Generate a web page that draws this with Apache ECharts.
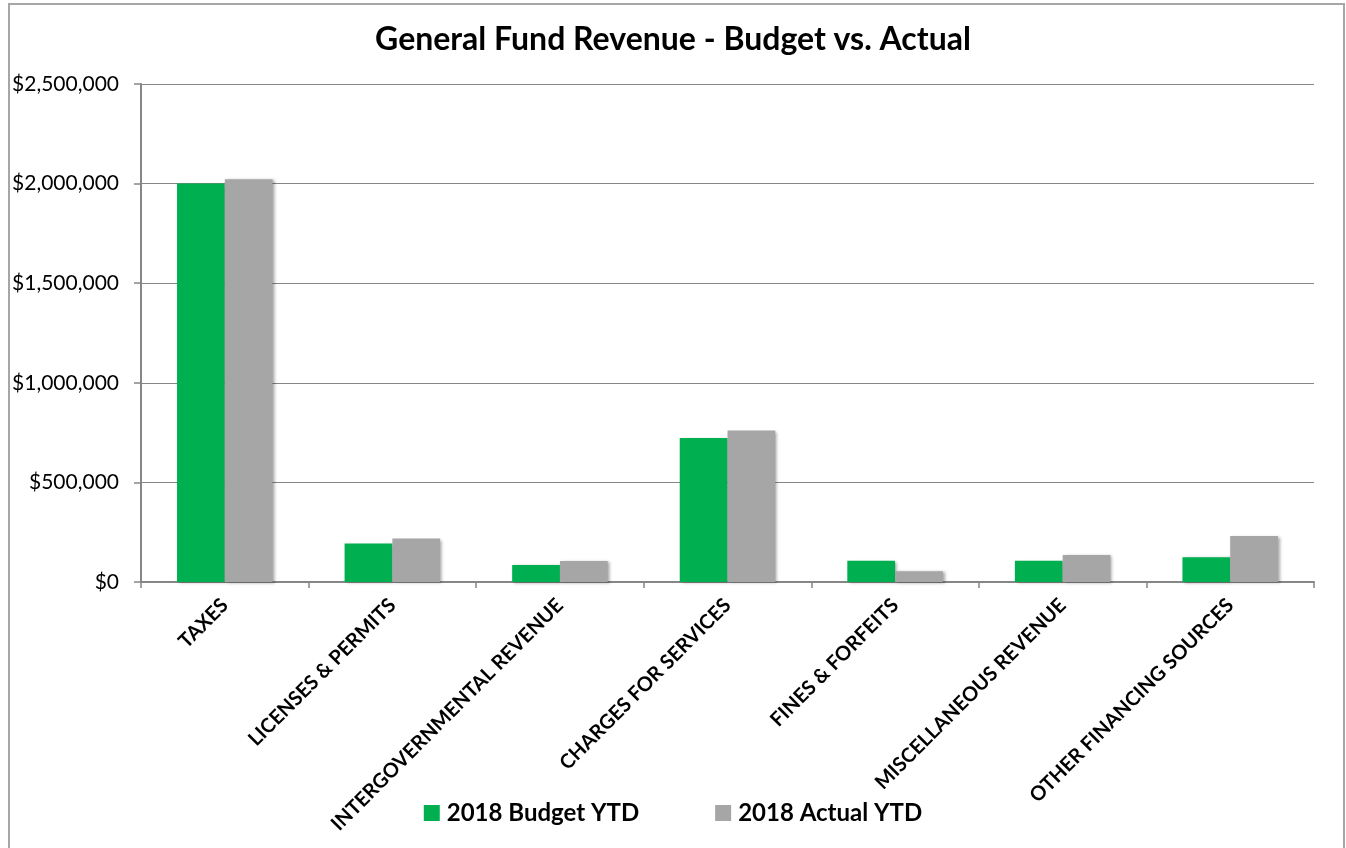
<!DOCTYPE html>
<html>
<head>
<meta charset="utf-8">
<script src="https://cdn.jsdelivr.net/npm/echarts@6/dist/echarts.min.js"></script>
<style>
  html, body { margin: 0; padding: 0; background: #ffffff; }
  #chart { width: 1346px; height: 848px; }
</style>
</head>
<body>
<div id="chart"></div>
<script>
// Revenue categories and year-to-date amounts (USD)
const categories = [
  'TAXES',
  'LICENSES & PERMITS',
  'INTERGOVERNMENTAL REVENUE',
  'CHARGES FOR SERVICES',
  'FINES & FORFEITS',
  'MISCELLANEOUS REVENUE',
  'OTHER FINANCING SOURCES'
];
const budgetYTD = [2000000, 193000, 85000, 723000, 107000, 107000, 124000];
const actualYTD = [2022000, 218000, 105000, 760000, 54000, 135000, 231000];
const seriesNames = ['2018 Budget YTD', '2018 Actual YTD'];

const FONT = 'Lato, "Open Sans", sans-serif';

const chart = echarts.init(document.getElementById('chart'));

function money(v) {
  return '$' + v.toLocaleString('en-US');
}

const barShadow = {
  shadowColor: 'rgba(0,0,0,0.35)',
  shadowBlur: 3,
  shadowOffsetX: 2,
  shadowOffsetY: 1
};

chart.setOption({
  backgroundColor: '#ffffff',
  animation: false,
  graphic: [{
    type: 'rect',
    shape: { x: 9, y: 4, width: 1335, height: 850 },
    style: { fill: 'none', stroke: '#a6a6a6', lineWidth: 2 },
    silent: true
  }],
  title: {
    text: 'General Fund Revenue - Budget vs. Actual',
    left: 'center',
    top: 19,
    textStyle: { fontFamily: FONT, fontSize: 32, fontWeight: 'bold', color: '#000' }
  },
  legend: {
    data: seriesNames,
    bottom: 18,
    left: 'center',
    itemWidth: 16,
    itemHeight: 16,
    itemGap: 76,
    icon: 'rect',
    textStyle: { fontFamily: FONT, fontSize: 24, fontWeight: 'bold', color: '#000', padding: [0, 0, 0, 2] }
  },
  grid: { left: 141, right: 32, top: 84, bottom: 266, containLabel: false },
  xAxis: {
    type: 'category',
    data: categories,
    axisLine: { lineStyle: { color: '#868686', width: 2 } },
    axisTick: { show: true, length: 6, lineStyle: { color: '#868686', width: 1.5 } },
    axisLabel: {
      rotate: 45,
      interval: 0,
      margin: 20,
      fontFamily: FONT,
      fontSize: 20,
      fontWeight: 'bold',
      color: '#000'
    }
  },
  yAxis: {
    type: 'value',
    min: 0,
    max: 2500000,
    interval: 500000,
    axisLine: { show: true, lineStyle: { color: '#868686', width: 2 } },
    axisTick: { show: true, length: 7, lineStyle: { color: '#868686', width: 1.5 } },
    splitLine: { lineStyle: { color: '#868686', width: 1.2 } },
    axisLabel: {
      formatter: money,
      margin: 22,
      fontFamily: FONT,
      fontSize: 21,
      color: '#000'
    }
  },
  series: [
    {
      name: seriesNames[0],
      type: 'bar',
      data: budgetYTD,
      barGap: '0%',
      barCategoryGap: '43%',
      itemStyle: Object.assign({ color: '#00b050' }, barShadow)
    },
    {
      name: seriesNames[1],
      type: 'bar',
      data: actualYTD,
      barGap: '0%',
      barCategoryGap: '43%',
      itemStyle: Object.assign({ color: '#a6a6a6' }, barShadow)
    }
  ]
});
</script>
</body>
</html>
